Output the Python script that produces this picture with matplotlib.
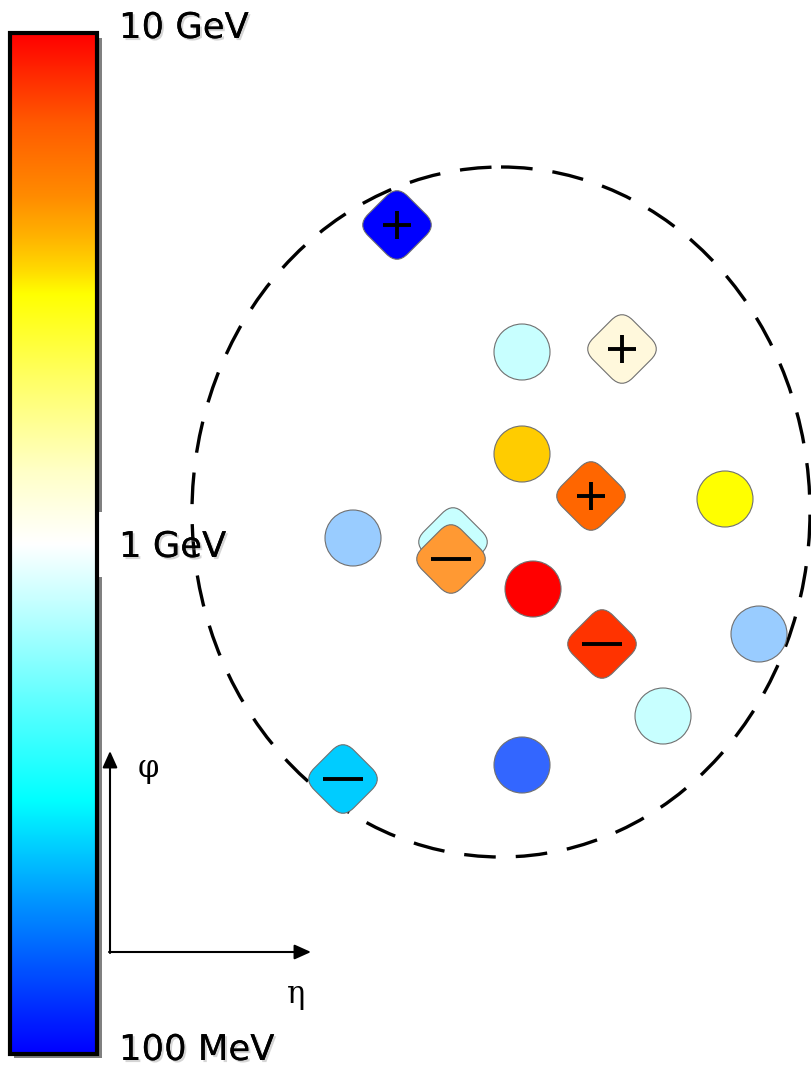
import numpy as np
import matplotlib
matplotlib.use("Agg")
import matplotlib.pyplot as plt
from matplotlib.colors import LinearSegmentedColormap
from matplotlib.patches import Rectangle, Circle, Ellipse, FancyBboxPatch, FancyArrowPatch
from matplotlib.transforms import Affine2D
import matplotlib.patheffects as pe

# ---------------- data ----------------
# colour scale (top -> bottom): fraction along bar, colour
scale_pos = [0.0, 0.087, 0.16, 0.20, 0.23, 0.255, 0.34, 0.43, 0.50, 0.555, 0.65, 0.752, 0.85, 0.95, 1.0]
scale_col = ["#ff0000", "#ff5a00", "#ff8c00", "#ffb400", "#ffd800", "#ffff00", "#ffff66", "#ffffc8",
             "#ffffff", "#c8ffff", "#64ffff", "#00ffff", "#0096ff", "#0032ff", "#0000ff"]
scale_labels = ["10 GeV", "1 GeV", "100 MeV"]
scale_label_y = [28, 547, 1050]

# neutral particles (circles): eta, phi (pixel coords), colour
neutral_x = [522, 522, 725, 353, 533, 759, 663, 522]
neutral_y = [352, 454, 499, 538, 589, 634, 716, 765]
neutral_c = ["#c8ffff", "#ffcc00", "#ffff00", "#99ccff", "#ff0000", "#99ccff", "#c8ffff", "#3366ff"]

# charged particles (rounded diamonds): eta, phi, colour, charge
charged_x = [397, 622, 591, 453, 451, 602, 343]
charged_y = [225, 349, 496, 542, 559, 644, 779]
charged_c = ["#0000ff", "#fff8dc", "#ff6600", "#c8ffff", "#ff9933", "#ff3300", "#00ccff"]
charged_q = ["+", "+", "+", "", "-", "-", "-"]

# jet cone
cone_center = (501, 512)
cone_size = (618, 690)

# ---------------- figure ----------------
W, H = 812, 1068
fig = plt.figure(figsize=(W / 100, H / 100), dpi=100)
ax = fig.add_axes([0, 0, 1, 1])
ax.set_xlim(0, W)
ax.set_ylim(H, 0)
ax.axis("off")

# colour bar
cmap = LinearSegmentedColormap.from_list("scale", list(zip(scale_pos, scale_col)), N=512)
x0, x1, y0, y1 = 10, 97, 33, 1054
# shadow
ax.add_patch(Rectangle((x1, y0 + 5), 5, 512 - (y0 + 5), color="#808080", zorder=1, lw=0))
ax.add_patch(Rectangle((x1, 577), 5, y1 + 4 - 577, color="#808080", zorder=1, lw=0))
ax.add_patch(Rectangle((x0 + 4, y1), x1 - x0, 4, color="#808080", zorder=1, lw=0))
grad = np.linspace(0, 1, 512).reshape(-1, 1)
ax.imshow(grad, cmap=cmap, extent=[x0, x1, y1, y0], aspect="auto", zorder=2, interpolation="bilinear")
ax.add_patch(Rectangle((x0, y0), x1 - x0, y1 - y0, fill=False, ec="black", lw=3, zorder=3))

shadow = [pe.withSimplePatchShadow(offset=(1.5, -1.5), shadow_rgbFace="#888888", alpha=0.35), pe.Normal()]
for lab, yy in zip(scale_labels, scale_label_y):
    ax.text(119, yy, lab, fontsize=25.5, family="DejaVu Sans", va="center", ha="left",
            color="black", zorder=5, path_effects=shadow)

# cone
ax.add_patch(Ellipse(cone_center, cone_size[0], cone_size[1], fill=False, ec="black", lw=2.4,
                     ls=(0, (9.5, 6)), zorder=4))

# neutral circles
for x, y, c in zip(neutral_x, neutral_y, neutral_c):
    ax.add_patch(Circle((x, y), 28, fc=c, ec="#707070", lw=0.8, zorder=6))

# charged rounded diamonds
side = 56
rad = 15
for x, y, c, q in zip(charged_x, charged_y, charged_c, charged_q):
    p = FancyBboxPatch((x - side / 2 + rad, y - side / 2 + rad), side - 2 * rad, side - 2 * rad,
                       boxstyle="round,pad=%d,rounding_size=%d" % (rad, rad),
                       fc=c, ec="#707070", lw=0.8, zorder=7)
    p.set_transform(Affine2D().rotate_deg_around(x, y, 45) + ax.transData)
    ax.add_patch(p)
    if q == "+":
        ax.plot([x - 14, x + 14], [y, y], color="black", lw=2.8, zorder=8, solid_capstyle="butt")
        ax.plot([x, x], [y - 14, y + 14], color="black", lw=2.8, zorder=8, solid_capstyle="butt")
    elif q == "-":
        ax.plot([x - 20, x + 20], [y, y], color="black", lw=2.8, zorder=8, solid_capstyle="butt")

# axes arrows
ax.add_patch(FancyArrowPatch((110, 953), (110, 751), arrowstyle="-|>,head_length=10,head_width=4.5",
                             color="black", lw=1.5, zorder=5, shrinkA=0, shrinkB=0))
ax.add_patch(FancyArrowPatch((109, 952), (311, 952), arrowstyle="-|>,head_length=10,head_width=4.5",
                             color="black", lw=1.5, zorder=5, shrinkA=0, shrinkB=0))
ax.text(148, 768, "φ", fontsize=22, family="DejaVu Serif", ha="center", va="center")
ax.text(296, 995, "η", fontsize=22, family="DejaVu Serif", ha="center", va="center")

fig.savefig("out.png", dpi=100)
